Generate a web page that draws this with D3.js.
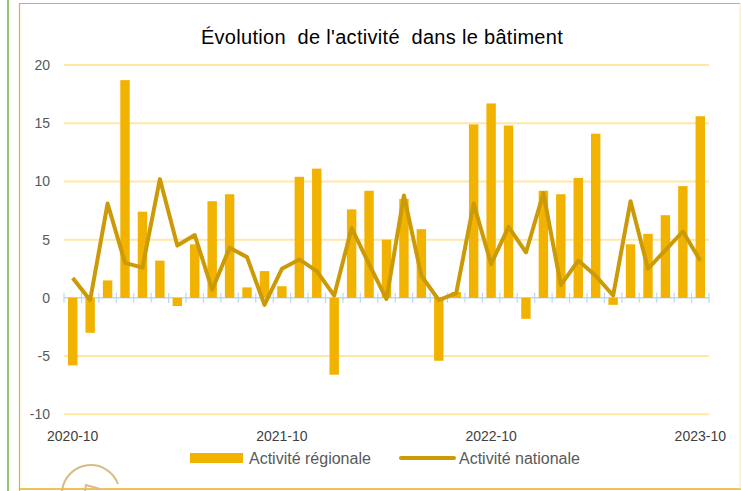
<!DOCTYPE html>
<html>
<head>
<meta charset="utf-8">
<script src="https://cdn.jsdelivr.net/npm/d3@7"></script>
<style>
  body { margin: 0; background: #fff; }
  svg { display: block; font-family: "Liberation Sans", Arial, sans-serif; }
</style>
</head>
<body>
<div id="wrapper"></div>
<script>
// Données
const months = [
  "2020-10","2020-11","2020-12","2021-01","2021-02","2021-03","2021-04","2021-05","2021-06","2021-07","2021-08","2021-09",
  "2021-10","2021-11","2021-12","2022-01","2022-02","2022-03","2022-04","2022-05","2022-06","2022-07","2022-08","2022-09",
  "2022-10","2022-11","2022-12","2023-01","2023-02","2023-03","2023-04","2023-05","2023-06","2023-07","2023-08","2023-09",
  "2023-10"
];
const regional = [
  -5.8, -3.0, 1.5, 18.7, 7.4, 3.2, -0.7, 4.6, 8.3, 8.9, 0.9, 2.3,
  1.0, 10.4, 11.1, -6.6, 7.6, 9.2, 5.0, 8.5, 5.9, -5.4, 0.5, 14.9,
  16.7, 14.8, -1.8, 9.2, 8.9, 10.3, 14.1, -0.6, 4.6, 5.5, 7.1, 9.6,
  15.6
];
const national = [
  1.7, -0.2, 8.1, 3.0, 2.6, 10.2, 4.5, 5.4, 0.7, 4.3, 3.5, -0.6,
  2.5, 3.3, 2.3, 0.2, 6.0, 2.9, -0.1, 8.8, 1.9, -0.2, 0.4, 8.1,
  2.9, 6.1, 3.9, 9.0, 1.1, 3.2, 1.9, 0.2, 8.3, 2.5, 4.1, 5.7,
  3.2
];
const yTicks = [-10, -5, 0, 5, 10, 15, 20];
const xLabels = ["2020-10", "2021-10", "2022-10", "2023-10"];

// Dimensions
const width = 741;
const height = 491;
const plotLeft = 64, plotRight = 709, plotTop = 65, plotBottom = 414.3;

const svg = d3.select("#wrapper").append("svg")
  .attr("width", width)
  .attr("height", height);

// Traits du cadre
svg.append("line")
  .attr("x1", 8).attr("x2", 8).attr("y1", 0).attr("y2", height)
  .attr("stroke", "#70AD47").attr("stroke-width", 1.5);
svg.append("path")
  .attr("d", "M19.5,491 L19.5,3.5 L740,3.5")
  .attr("fill", "none").attr("stroke", "#E8B020").attr("stroke-width", 1.2);
svg.append("line")
  .attr("x1", 19.5).attr("x2", 741).attr("y1", 489).attr("y2", 489)
  .attr("stroke", "#E8B020").attr("stroke-width", 1.5);
svg.append("line")
  .attr("x1", 740).attr("x2", 740).attr("y1", 3.5).attr("y2", 489)
  .attr("stroke", "#FBE7B0").attr("stroke-width", 1);

// Logo partiellement visible en bas
svg.append("path")
  .attr("d", "M62,491 A29,29 0 0 1 118,484")
  .attr("fill", "none").attr("stroke", "#D9BC84").attr("stroke-width", 2);
svg.append("path")
  .attr("d", "M85,491 L86,485 L100,489")
  .attr("fill", "none").attr("stroke", "#D9BC84").attr("stroke-width", 2);

// Titre
svg.append("text")
  .attr("x", 382).attr("y", 44)
  .attr("text-anchor", "middle")
  .style("white-space", "pre")
  .attr("font-size", 20)
  .attr("letter-spacing", 0.3)
  .attr("fill", "#000")
  .text("Évolution  de l'activité  dans le bâtiment");

// Echelles
const x = d3.scaleBand().domain(months).range([plotLeft, plotRight])
  .paddingInner(0.46).paddingOuter(0.23);
const y = d3.scaleLinear().domain([-10, 20]).range([plotBottom, plotTop]);

// Grille horizontale
svg.append("g").selectAll("line")
  .data(yTicks.filter(d => d !== 0))
  .join("line")
  .attr("x1", plotLeft).attr("x2", plotRight)
  .attr("y1", d => y(d)).attr("y2", d => y(d))
  .attr("stroke", "#FFE8A6").attr("stroke-width", 2);

// Axe Y
const yAxis = svg.append("g")
  .attr("transform", `translate(${plotLeft},0)`)
  .call(d3.axisLeft(y).tickValues(yTicks).tickFormat(d => String(d)).tickSize(0).tickPadding(14));
yAxis.select(".domain").remove();
yAxis.selectAll("text")
  .attr("font-size", 14)
  .attr("font-family", "Liberation Sans, Arial, sans-serif")
  .attr("fill", "#595959");

// Axe zéro avec graduations entre catégories
const step = x.step();
svg.append("line")
  .attr("x1", plotLeft).attr("x2", plotRight)
  .attr("y1", y(0)).attr("y2", y(0))
  .attr("stroke", "#BDD7EE").attr("stroke-width", 1.5);
svg.append("g").selectAll("line")
  .data(d3.range(months.length + 1))
  .join("line")
  .attr("x1", i => plotLeft + i * step).attr("x2", i => plotLeft + i * step)
  .attr("y1", y(0) - 5).attr("y2", y(0) + 5)
  .attr("stroke", "#BDD7EE").attr("stroke-width", 1.2);

// Barres
svg.append("g").selectAll("rect")
  .data(regional)
  .join("rect")
  .attr("x", (d, i) => x(months[i]))
  .attr("width", x.bandwidth())
  .attr("y", d => y(Math.max(0, d)))
  .attr("height", d => Math.abs(y(d) - y(0)))
  .attr("fill", "#F1B300");

// Ligne
const line = d3.line()
  .x((d, i) => x(months[i]) + x.bandwidth() / 2)
  .y(d => y(d));
svg.append("path")
  .datum(national)
  .attr("d", line)
  .attr("fill", "none")
  .attr("stroke", "#CC9A06")
  .attr("stroke-width", 4)
  .attr("stroke-linejoin", "round");

// Etiquettes de l'axe X
const xAxis = svg.append("g")
  .attr("transform", `translate(0,${plotBottom})`)
  .call(d3.axisBottom(x).tickValues(xLabels).tickSize(0).tickPadding(17));
xAxis.select(".domain").remove();
xAxis.selectAll("text")
  .attr("font-size", 14)
  .attr("font-family", "Liberation Sans, Arial, sans-serif")
  .attr("fill", "#404040");

// Légende
const legend = svg.append("g");
legend.append("rect")
  .attr("x", 190).attr("y", 453).attr("width", 53).attr("height", 10)
  .attr("fill", "#F1B300");
legend.append("text")
  .attr("x", 249).attr("y", 464)
  .attr("font-size", 16).attr("fill", "#595959")
  .text("Activité régionale");
legend.append("line")
  .attr("x1", 401).attr("x2", 454).attr("y1", 458).attr("y2", 458)
  .attr("stroke", "#CC9A06").attr("stroke-width", 4).attr("stroke-linecap", "round");
legend.append("text")
  .attr("x", 459).attr("y", 464)
  .attr("font-size", 16).attr("fill", "#595959")
  .text("Activité nationale");
</script>
</body>
</html>
